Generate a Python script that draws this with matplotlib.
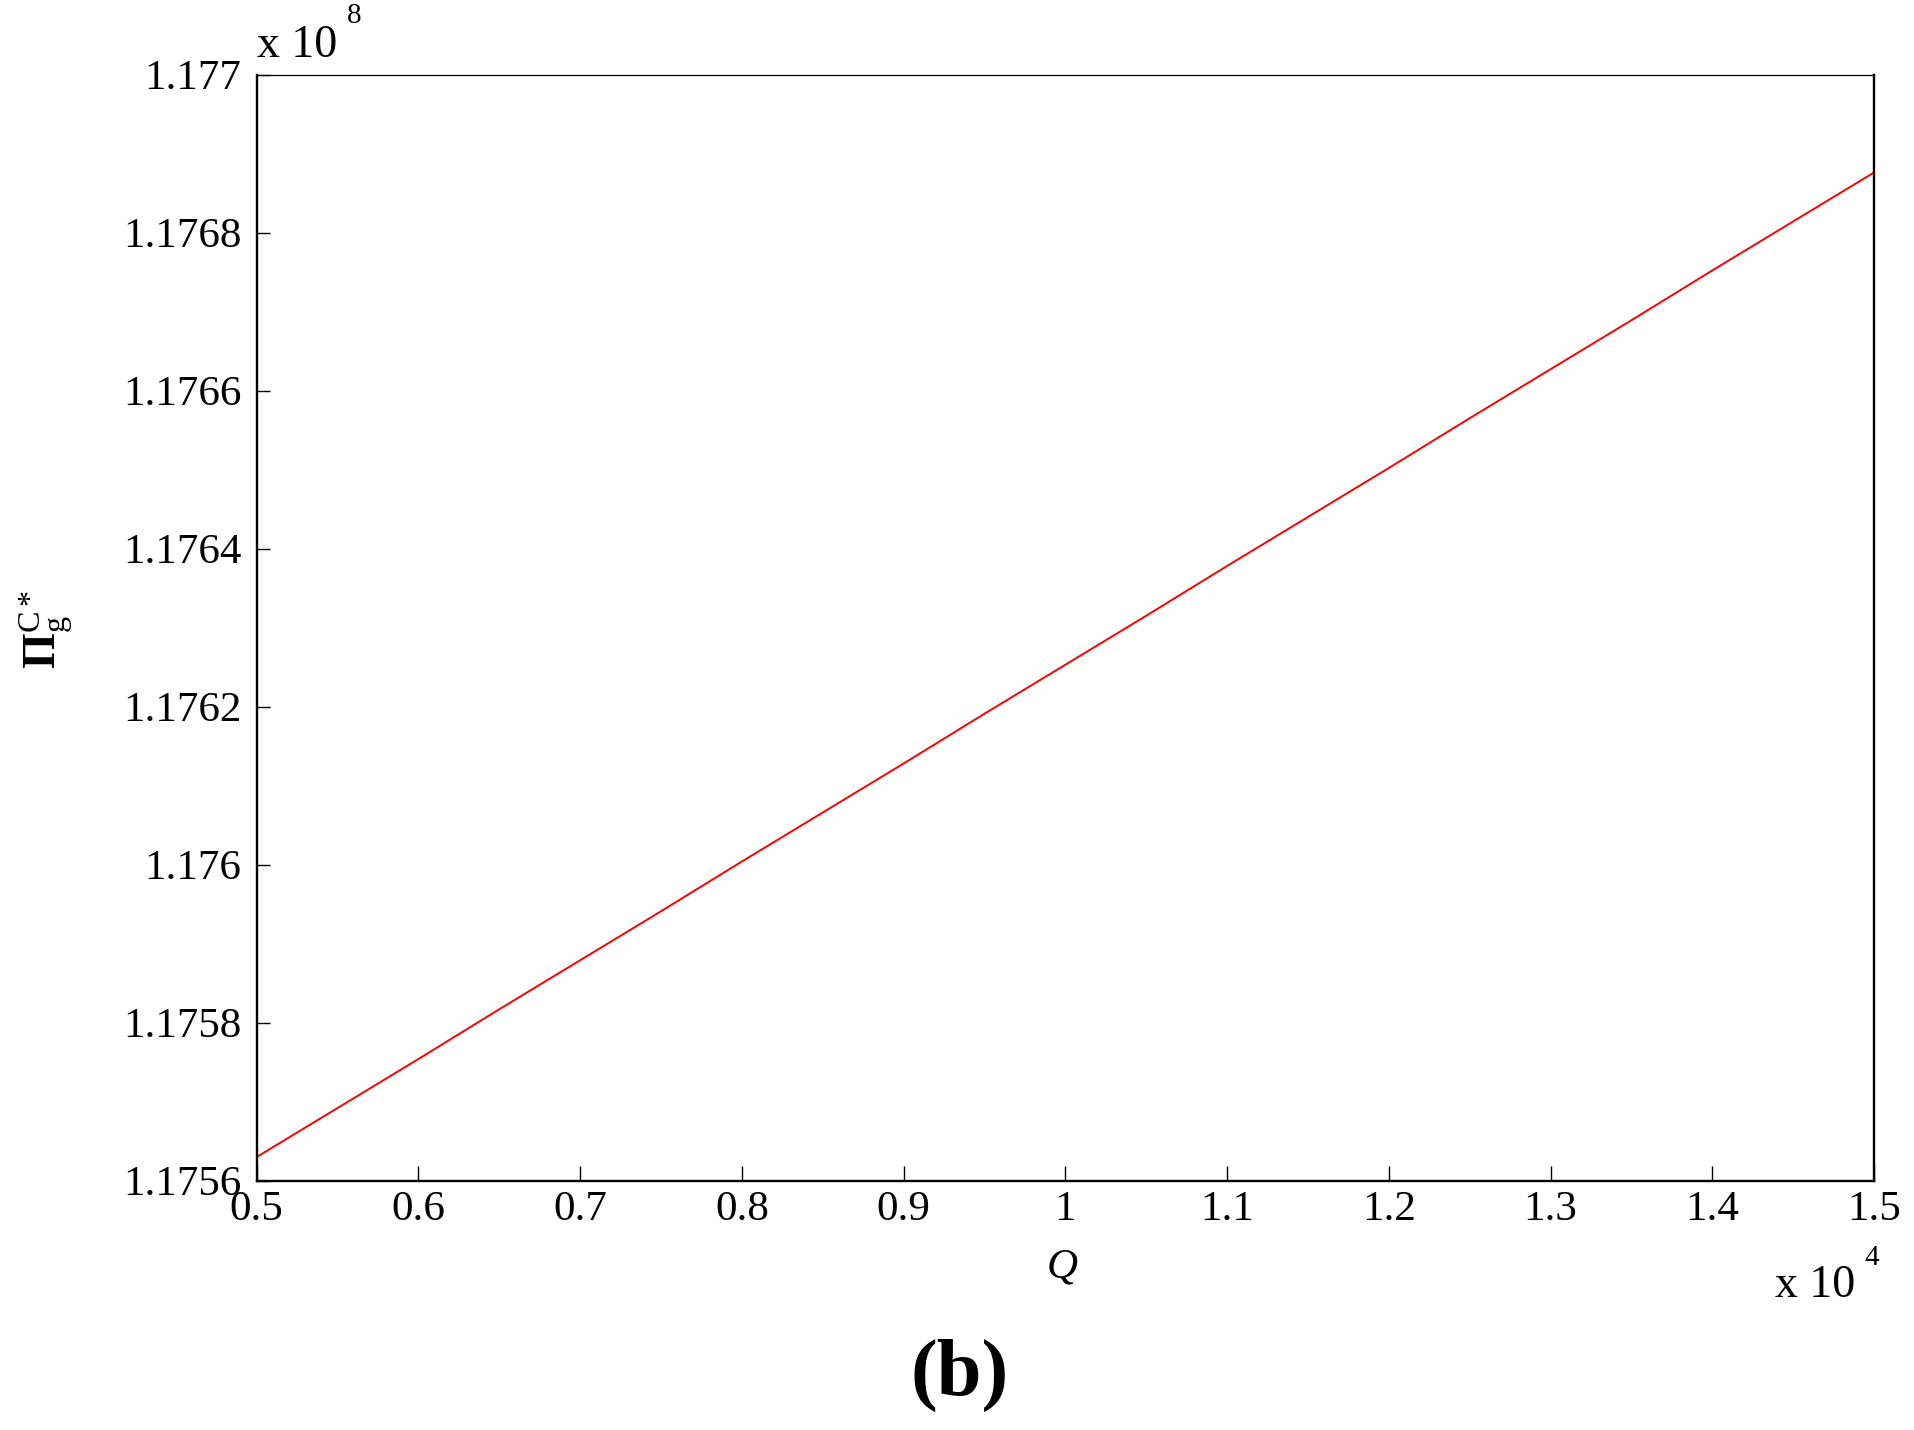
import matplotlib
matplotlib.use("Agg")
import matplotlib.pyplot as plt
from matplotlib.ticker import FixedLocator

plt.rcParams['font.family'] = ['Liberation Serif', 'DejaVu Serif']
plt.rcParams['mathtext.fontset'] = 'custom'
plt.rcParams['mathtext.rm'] = 'Liberation Serif'
plt.rcParams['mathtext.it'] = 'Liberation Serif:italic'
plt.rcParams['mathtext.bf'] = 'Liberation Serif:bold'

# Data (Q in units of 1e4, profit in units of 1e8)
q_values = [0.50, 0.55, 0.60, 0.65, 0.70, 0.75, 0.80, 0.85, 0.90, 0.95, 1.00,
            1.05, 1.10, 1.15, 1.20, 1.25, 1.30, 1.35, 1.40, 1.45, 1.50]
profit = [1.175630, 1.175692, 1.175754, 1.175817, 1.175879, 1.175941, 1.176004,
          1.176066, 1.176128, 1.176191, 1.176253, 1.176315, 1.176378, 1.176440,
          1.176502, 1.176565, 1.176627, 1.176689, 1.176752, 1.176814, 1.176876]
x_ticks = [0.5, 0.6, 0.7, 0.8, 0.9, 1.0, 1.1, 1.2, 1.3, 1.4, 1.5]
x_tick_labels = ['0.5', '0.6', '0.7', '0.8', '0.9', '1', '1.1', '1.2', '1.3', '1.4', '1.5']
y_ticks = [1.1756, 1.1758, 1.1760, 1.1762, 1.1764, 1.1766, 1.1768, 1.1770]
y_tick_labels = ['1.1756', '1.1758', '1.176', '1.1762', '1.1764', '1.1766', '1.1768', '1.177']

W, H = 1914, 1430
fig = plt.figure(figsize=(W / 100, H / 100), dpi=100)
left, right, top, bottom = 256.7, 1874, 74.5, 1180.7
ax = fig.add_axes([left / W, 1 - bottom / H, (right - left) / W, (bottom - top) / H])

ax.plot(q_values, profit, color='#ff0000', lw=1.4)
ax.set_xlim(0.5, 1.5)
ax.set_ylim(1.1756, 1.1770)
ax.xaxis.set_major_locator(FixedLocator(x_ticks))
ax.yaxis.set_major_locator(FixedLocator(y_ticks))
ax.set_xticklabels(x_tick_labels)
ax.set_yticklabels(y_tick_labels)
ax.tick_params(axis='both', direction='in', labelsize=31, width=1.0, colors='black')
ax.tick_params(axis='x', length=10.6, pad=7)
ax.tick_params(axis='y', length=9.4, pad=11)
for s in ['left', 'bottom', 'right']:
    ax.spines[s].set_linewidth(1.7)
ax.spines['top'].set_linewidth(0.9)

# y multiplier
fig.text(257 / W, 1 - 57 / H, 'x 10', fontsize=33, va='baseline', ha='left')
fig.text(347 / W, 1 - 23 / H, '8', fontsize=21, va='baseline', ha='left')
# x multiplier
fig.text(1775 / W, 1 - 1297 / H, 'x 10', fontsize=33, va='baseline', ha='left')
fig.text(1864 / W, 1 - 1265 / H, '4', fontsize=21, va='baseline', ha='left')

# axis labels
fig.text(1062 / W, 1 - 1277 / H, r'$Q$', fontsize=31, va='baseline', ha='center')
fig.text(46 / W, 1 - 630 / H, r'$\mathbf{\Pi}_{\mathrm{g}}^{\mathrm{C*}}$', fontsize=33,
         rotation=90, va='center', ha='center')

# panel tag
fig.text(960 / W, 1 - 1395 / H, '(b)', fontsize=58, fontweight='bold',
         va='baseline', ha='center')

fig.savefig('out.png', dpi=100, facecolor='white')
